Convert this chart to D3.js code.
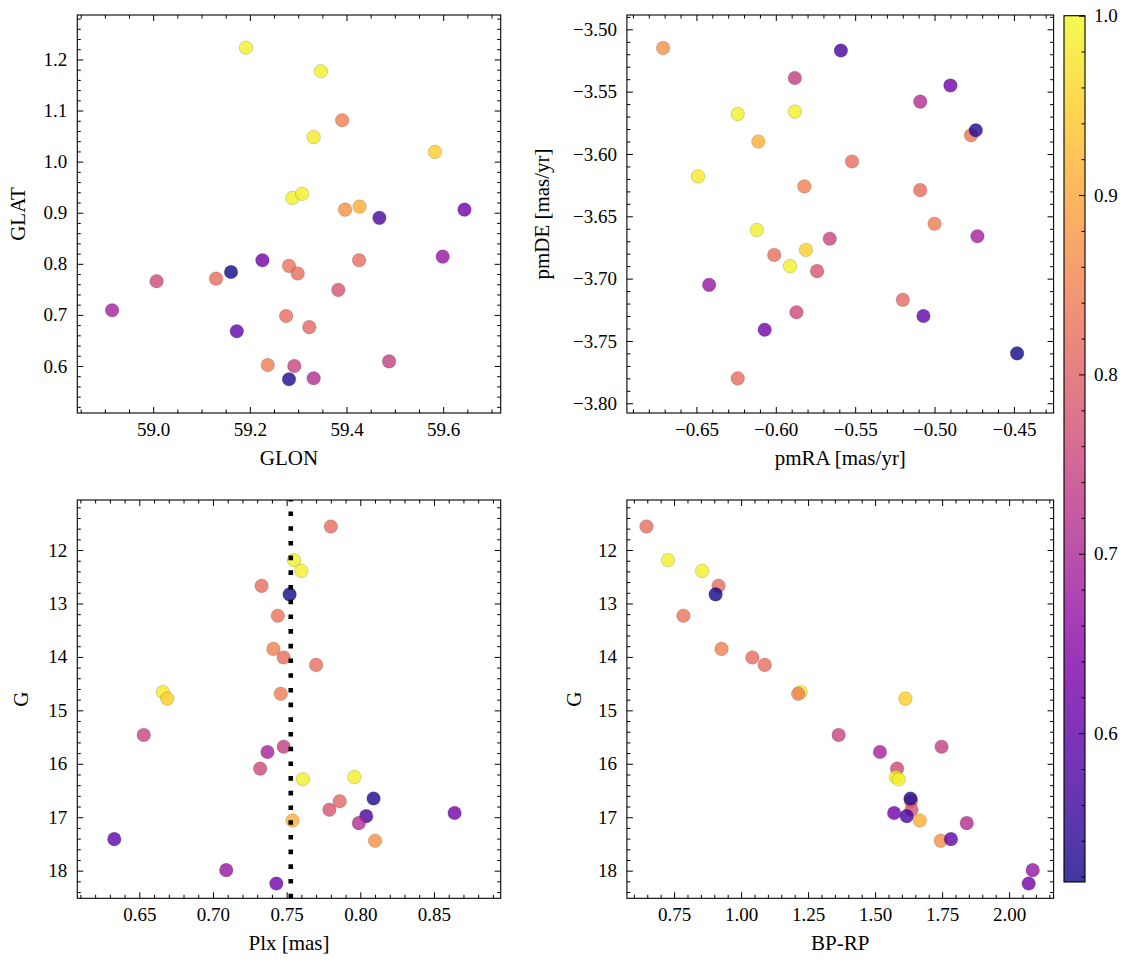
<!DOCTYPE html>
<html><head><meta charset="utf-8">
<script src="https://cdn.jsdelivr.net/npm/d3@7"></script>
<style>
body{margin:0;background:#fff}
svg text{font-family:"Liberation Serif","Times New Roman",serif;fill:#000}
</style>
</head><body>
<svg id="c" width="1133" height="965"></svg>
<script>
// ---- data (one entry per star, in drawing order) ----
const glon = [59.192,59.347,59.426,59.130,59.161,59.281,59.391,59.299,59.275,59.332,59.583,59.237,59.292,59.488,58.915,59.007,59.288,59.308,59.323,59.383,59.281,59.468,59.226,59.427,59.332,59.397,59.173,59.599,59.644];
const glat = [1.223,1.177,0.807,0.771,0.784,0.796,1.081,0.781,0.698,1.048,1.019,0.602,0.600,0.609,0.709,0.766,0.929,0.937,0.676,0.749,0.574,0.890,0.807,0.912,0.576,0.906,0.668,0.814,0.906];
const pmra = [-0.624,-0.588,-0.624,-0.601,-0.448,-0.477,-0.582,-0.552,-0.509,-0.649,-0.581,-0.500,-0.566,-0.588,-0.473,-0.587,-0.612,-0.591,-0.520,-0.574,-0.474,-0.559,-0.490,-0.611,-0.509,-0.671,-0.507,-0.642,-0.607];
const pmde = [-3.568,-3.566,-3.780,-3.681,-3.760,-3.585,-3.626,-3.606,-3.629,-3.618,-3.677,-3.656,-3.668,-3.539,-3.666,-3.727,-3.661,-3.690,-3.717,-3.694,-3.581,-3.517,-3.545,-3.590,-3.558,-3.515,-3.730,-3.705,-3.741];
const plx  = [0.755,0.760,0.780,0.733,0.752,0.744,0.741,0.748,0.770,0.666,0.669,0.746,0.653,0.748,0.737,0.732,0.796,0.761,0.786,0.779,0.809,0.804,0.864,0.754,0.799,0.810,0.633,0.709,0.743];
const gmag = [12.19,12.39,11.56,12.67,12.83,13.23,13.85,14.01,14.15,14.66,14.78,14.69,15.46,15.68,15.78,16.09,16.25,16.29,16.70,16.86,16.65,16.98,16.92,17.06,17.11,17.44,17.41,17.99,18.24];
const bprp = [0.727,0.855,0.647,0.916,0.905,0.785,0.927,1.042,1.088,1.222,1.613,1.213,1.364,1.748,1.518,1.582,1.578,1.588,1.634,1.636,1.632,1.618,1.571,1.667,1.842,1.745,1.783,2.088,2.073];
const prob = [0.99,0.99,0.82,0.82,0.52,0.83,0.85,0.82,0.82,0.98,0.95,0.84,0.75,0.74,0.69,0.76,0.99,0.99,0.81,0.78,0.53,0.57,0.62,0.91,0.71,0.87,0.60,0.67,0.62];
const plxMean = 0.7528;
const probRange = [0.517, 1.0];

// tick values
const glonTicks = [59.0,59.2,59.4,59.6];
const glatTicks = [0.6,0.7,0.8,0.9,1.0,1.1,1.2];
const pmraTicks = [-0.65,-0.60,-0.55,-0.50,-0.45];
const pmdeTicks = [-3.80,-3.75,-3.70,-3.65,-3.60,-3.55,-3.50];
const plxTicks  = [0.65,0.70,0.75,0.80,0.85];
const gTicks    = [12,13,14,15,16,17,18];
const bprpTicks = [0.75,1.00,1.25,1.50,1.75,2.00];
const cbTicks   = [0.6,0.7,0.8,0.9,1.0];

const FONT = '"Liberation Serif","Times New Roman",serif';
const svg = d3.select("#c");
const color = p => d3.interpolatePlasma((p - probRange[0]) / (probRange[1] - probRange[0]));
const idx = d3.range(prob.length);

function minorVals(dom, step, majors){
  const lo = Math.min(...dom), hi = Math.max(...dom), out = [];
  for (let k = Math.ceil(lo/step - 1e-9); k <= Math.floor(hi/step + 1e-9); k++){
    const v = k*step;
    if (majors.some(m => Math.abs(m - v) < step*1e-3)) continue;
    out.push(v);
  }
  return out;
}

function styleAxis(g){
  g.select(".domain").remove();
  g.attr("font-family", FONT).attr("font-size", 19);
  g.selectAll("line").attr("stroke","#000").attr("stroke-width",1);
}

function panel(c){
  const g = svg.append("g");
  const x = d3.scaleLinear().domain(c.xd).range([c.L, c.R]);
  const y = d3.scaleLinear().domain(c.yd).range(c.yInv ? [c.T, c.B] : [c.B, c.T]);
  const cid = "clip" + c.id;
  svg.append("clipPath").attr("id", cid).append("rect")
    .attr("x", c.L).attr("y", c.T).attr("width", c.R - c.L).attr("height", c.B - c.T);
  const pts = g.append("g").attr("clip-path", `url(#${cid})`);
  pts.selectAll("circle").data(idx).join("circle")
    .attr("cx", i => x(c.xv[i])).attr("cy", i => y(c.yv[i])).attr("r", 6.8)
    .attr("fill", i => color(prob[i])).attr("fill-opacity", 0.8)
    .attr("stroke", "#000").attr("stroke-opacity", 0.3).attr("stroke-width", 0.5);
  if (c.vline !== undefined){
    pts.append("line").attr("x1", x(c.vline)).attr("x2", x(c.vline))
      .attr("y1", c.B).attr("y2", c.T)
      .attr("stroke", "#000").attr("stroke-width", 4.6).attr("stroke-dasharray", "4.6,10.1");
  }
  const xm = minorVals(c.xd, c.xminor, c.xt), ym = minorVals(c.yd, c.yminor, c.yt);
  g.append("g").attr("transform", `translate(0,${c.B})`)
    .call(d3.axisBottom(x).tickValues(c.xt).tickSize(-6).tickPadding(9.5).tickFormat(d3.format(c.xf))).call(styleAxis);
  g.append("g").attr("transform", `translate(0,${c.B})`)
    .call(d3.axisBottom(x).tickValues(xm).tickSize(-3.5).tickFormat("")).call(styleAxis);
  g.append("g").attr("transform", `translate(0,${c.T})`)
    .call(d3.axisTop(x).tickValues(c.xt).tickSize(-6).tickFormat("")).call(styleAxis);
  g.append("g").attr("transform", `translate(0,${c.T})`)
    .call(d3.axisTop(x).tickValues(xm).tickSize(-3.5).tickFormat("")).call(styleAxis);
  g.append("g").attr("transform", `translate(${c.L},0)`)
    .call(d3.axisLeft(y).tickValues(c.yt).tickSize(-6).tickPadding(10).tickFormat(d3.format(c.yf))).call(styleAxis);
  g.append("g").attr("transform", `translate(${c.L},0)`)
    .call(d3.axisLeft(y).tickValues(ym).tickSize(-3.5).tickFormat("")).call(styleAxis);
  g.append("g").attr("transform", `translate(${c.R},0)`)
    .call(d3.axisRight(y).tickValues(c.yt).tickSize(-6).tickFormat("")).call(styleAxis);
  g.append("g").attr("transform", `translate(${c.R},0)`)
    .call(d3.axisRight(y).tickValues(ym).tickSize(-3.5).tickFormat("")).call(styleAxis);
  g.append("rect").attr("x", c.L).attr("y", c.T).attr("width", c.R - c.L).attr("height", c.B - c.T)
    .attr("fill", "none").attr("stroke", "#000").attr("stroke-width", 1.1);
  g.append("text").attr("x", (c.L + c.R)/2).attr("y", c.B + 52).attr("text-anchor", "middle")
    .attr("font-size", 21).text(c.xl);
  g.append("text").attr("transform", `translate(${c.L + c.ylOff},${(c.T + c.B)/2}) rotate(-90)`)
    .attr("text-anchor", "middle").attr("font-size", 21).text(c.yl);
}

panel({id:1, L:77.3, R:500.7, T:15, B:413, xd:[58.843,59.719], yd:[0.508,1.287],
  xv:glon, yv:glat, xt:glonTicks, yt:glatTicks, xminor:0.05, yminor:0.02, xf:".1f", yf:".1f",
  xl:"GLON", yl:"GLAT", ylOff:-52});
panel({id:2, L:626.9, R:1053.6, T:15, B:413, xd:[-0.6938,-0.425], yd:[-3.8078,-3.4885],
  xv:pmra, yv:pmde, xt:pmraTicks, yt:pmdeTicks, xminor:0.01, yminor:0.01, xf:".2f", yf:".2f",
  xl:"pmRA [mas/yr]", yl:"pmDE [mas/yr]", ylOff:-78});
panel({id:3, L:77.3, R:500.7, T:500, B:898.3, xd:[0.6079,0.8953], yd:[11.064,18.517], yInv:true,
  xv:plx, yv:gmag, xt:plxTicks, yt:gTicks, xminor:0.01, yminor:0.2, xf:".2f", yf:"d",
  xl:"Plx [mas]", yl:"G", ylOff:-49, vline:plxMean});
panel({id:4, L:626.9, R:1053.6, T:500, B:898.3, xd:[0.574,2.166], yd:[11.064,18.517], yInv:true,
  xv:bprp, yv:gmag, xt:bprpTicks, yt:gTicks, xminor:0.05, yminor:0.2, xf:".2f", yf:"d",
  xl:"BP-RP", yl:"G", ylOff:-46});

// ---- colorbar ----
const cb = {L:1064, R:1085, T:15.7, B:882};
const defs = svg.append("defs");
const grad = defs.append("linearGradient").attr("id","cbg").attr("x1",0).attr("y1",1).attr("x2",0).attr("y2",0);
d3.range(0, 1.0001, 0.02).forEach(t => grad.append("stop").attr("offset", t).attr("stop-color", d3.interpolatePlasma(t)));
svg.append("rect").attr("x", cb.L).attr("y", cb.T).attr("width", cb.R - cb.L).attr("height", cb.B - cb.T)
  .attr("fill", "url(#cbg)").attr("fill-opacity", 0.8);
const cy = d3.scaleLinear().domain(probRange).range([cb.B, cb.T]);
const cbMinor = minorVals(probRange, 0.02, cbTicks);
svg.append("g").attr("transform", `translate(${cb.R},0)`)
  .call(d3.axisRight(cy).tickValues(cbTicks).tickSize(-6).tickPadding(9).tickFormat(d3.format(".1f"))).call(styleAxis);
svg.append("g").attr("transform", `translate(${cb.R},0)`)
  .call(d3.axisRight(cy).tickValues(cbMinor).tickSize(-3.5).tickFormat("")).call(styleAxis);
svg.append("rect").attr("x", cb.L).attr("y", cb.T).attr("width", cb.R - cb.L).attr("height", cb.B - cb.T)
  .attr("fill", "none").attr("stroke", "#000").attr("stroke-width", 1.1);
</script>
</body></html>
